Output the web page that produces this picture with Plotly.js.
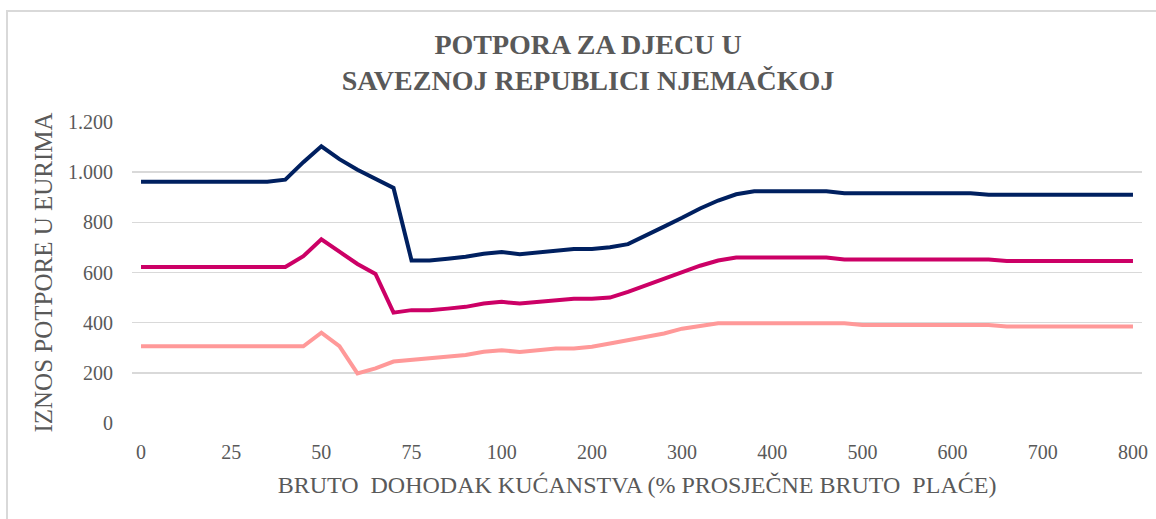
<!DOCTYPE html>
<html>
<head>
<meta charset="utf-8">
<script src="https://cdn.plot.ly/plotly-3.0.1.min.js"></script>
<style>
  html, body { margin: 0; padding: 0; background: #ffffff; overflow: hidden; }
  #frame { position: absolute; left: 6px; top: 10px; width: 1200px; height: 600px;
           border-left: 2px solid #d9d9d9; border-top: 2px solid #d9d9d9; }
  #chart { position: absolute; left: 0; top: 0; width: 1156px; height: 519px; }
</style>
</head>
<body>
<div id="frame"></div>
<div id="chart"></div>
<script>
// Income categories (% of average gross wage)
const categories = ['0','5','10','15','20','25','30','35','40','45','50','55','60','65','70','75','80','85','90','95','100',
  '120','140','160','180','200','220','240','260','280','300','320','340','360','380','400','420','440','460','480','500',
  '520','540','560','580','600','620','640','660','680','700','720','740','760','780','800'];

const tickLabels = ['0','25','50','75','100','200','300','400','500','600','700','800'];

const seriesNavy = [962,962,962,962,962,962,962,962,970,1040,1103,1052,1010,972,937,648,648,655,663,675,682,
  673,680,687,694,694,701,713,746,783,818,855,887,912,924,924,924,924,924,916,916,
  916,916,916,916,916,916,910,910,910,910,910,910,910,910,910];

const seriesMagenta = [622,622,622,622,622,622,622,622,622,665,732,683,634,594,440,450,450,456,463,476,483,
  476,483,489,495,495,500,523,549,576,602,627,648,660,660,660,660,660,660,652,652,
  652,652,652,652,652,652,652,646,646,646,646,646,646,646,646];

const seriesPink = [306,306,306,306,306,306,306,306,306,306,360,306,198,218,245,251,257,264,271,284,290,
  283,290,297,297,304,317,330,343,357,376,387,398,398,398,398,398,398,398,398,391,
  391,391,391,391,391,391,391,385,385,385,385,385,385,385,385];

const titleText = 'POTPORA ZA DJECU U<br>SAVEZNOJ REPUBLICI NJEMAČKOJ';
const xTitle = 'BRUTO  DOHODAK KUĆANSTVA (% PROSJEČNE BRUTO  PLAĆE)';
const yTitle = 'IZNOS POTPORE U EURIMA';

const serif = 'Liberation Serif';
const gray = '#595959';

function line(y, color) {
  return { x: categories, y: y, type: 'scatter', mode: 'lines',
    line: { color: color, width: 4, shape: 'linear' }, hoverinfo: 'x+y', showlegend: false };
}

const data = [
  line(seriesNavy, '#002060'),
  line(seriesMagenta, '#CC0066'),
  line(seriesPink, '#FF9999')
];

const layout = {
  width: 1156, height: 519,
  margin: { l: 132, r: 14, t: 122, b: 96 },
  paper_bgcolor: 'rgba(0,0,0,0)',
  plot_bgcolor: 'rgba(0,0,0,0)',
  separators: ',.',
  showlegend: false,
  font: { family: serif, color: gray },
  title: {
    text: titleText,
    font: { family: serif, size: 28, color: gray, weight: 'bold' },
    x: 588 / 1156, xanchor: 'center', xref: 'container',
    y: 1 - 54 / 519, yanchor: 'top', yref: 'container'
  },
  xaxis: {
    type: 'category',
    categoryorder: 'array', categoryarray: categories,
    tickmode: 'array', tickvals: tickLabels, ticktext: tickLabels,
    range: [-0.5, categories.length - 0.5],
    showgrid: false, zeroline: false, showline: false, ticks: '',
    tickfont: { family: serif, size: 20, color: gray },
    ticklabelstandoff: 15,
    title: { text: xTitle, font: { family: serif, size: 24, color: gray }, standoff: 14 },
    automargin: false
  },
  yaxis: {
    range: [0, 1200], tickmode: 'array', tickvals: [0,200,400,600,800,1000,1200],
    separatethousands: true,
    showgrid: true, gridcolor: '#d9d9d9', gridwidth: 1.5,
    zeroline: false, showline: false, ticks: '',
    tickfont: { family: serif, size: 20, color: gray },
    ticklabelstandoff: 18,
    title: { text: yTitle, font: { family: serif, size: 25, color: gray }, standoff: 8 },
    automargin: false
  }
};

Plotly.newPlot('chart', data, layout, { displayModeBar: false, staticPlot: true });
</script>
</body>
</html>
